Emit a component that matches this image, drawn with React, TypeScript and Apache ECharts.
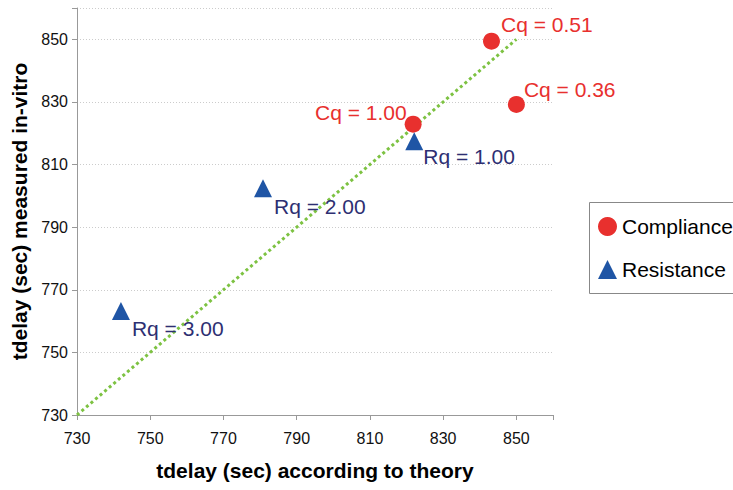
import React, { useEffect, useRef } from "react";
import * as echarts from "echarts";

const complianceX = [843.2, 850, 821.8];
const complianceY = [849.4, 829.2, 822.9];
const complianceLabels = ["Cq = 0.51", "Cq = 0.36", "Cq = 1.00"];

const resistanceX = [822.1, 780.8, 742];
const resistanceY = [817.4, 802.4, 763.2];
const resistanceLabels = ["Rq = 1.00", "Rq = 2.00", "Rq = 3.00"];

const identityLine = [730, 850];
const axisTicks = [730, 750, 770, 790, 810, 830, 850];

const complianceOffsets: [number, number, string][] = [
  [-4, -17, "right"],
  [-6, -15, "right"],
  [7, -12, "left"],
];
const resistanceOffsets: [number, number][] = [
  [-5, 15],
  [-3, 18],
  [-3, 17],
];

export default function App() {
  const ref = useRef<HTMLDivElement>(null);
  useEffect(() => {
    if (!ref.current) return;
    const chart = echarts.init(ref.current, undefined, { renderer: "svg" });
    const font = "Liberation Sans, Arial, sans-serif";
    const compData = complianceX.map((x, i) => ({
      value: [x, complianceY[i]],
      label: {
        show: true,
        formatter: complianceLabels[i],
        position: complianceOffsets[i][2] as any,
        offset: [complianceOffsets[i][0], complianceOffsets[i][1]],
      },
    }));
    const resData = resistanceX.map((x, i) => ({
      value: [x, resistanceY[i]],
      label: {
        show: true,
        formatter: resistanceLabels[i],
        position: "right" as any,
        offset: resistanceOffsets[i],
      },
    }));
    chart.setOption({
      animation: false,
      textStyle: { fontFamily: font },
      grid: { left: 77, right: 180, top: 8, bottom: 75 },
      graphic: [
        {
          type: "rect",
          shape: { x: 589.5, y: 202.5, width: 200, height: 91 },
          style: { fill: "none", stroke: "#888", lineWidth: 1 },
          silent: true,
          z: 0,
        },
      ],
      legend: {
        orient: "vertical",
        left: 589,
        top: 202,
        data: ["Compliance", "Resistance"],
        borderWidth: 0,
        padding: [14, 0, 14, 9],
        itemGap: 22,
        itemWidth: 19,
        itemHeight: 19,
        textStyle: { fontSize: 21, color: "#000", fontFamily: font },
      },
      xAxis: {
        type: "value",
        min: 730,
        max: 860,
        interval: 20,
        name: "tdelay (sec) according to theory",
        nameLocation: "middle",
        nameGap: 45,
        nameTextStyle: { fontSize: 21, fontWeight: "bold", color: "#000", fontFamily: font },
        axisLine: { show: true, lineStyle: { color: "#999" } },
        axisTick: { show: true, length: 5, lineStyle: { color: "#999" } },
        axisLabel: {
          fontSize: 16,
          color: "#111",
          margin: 15,
          formatter: (v: number) => (axisTicks.includes(v) ? String(v) : ""),
        },
        splitLine: { show: false },
      },
      yAxis: {
        type: "value",
        min: 730,
        max: 860,
        interval: 20,
        name: "tdelay (sec) measured in-vitro",
        nameLocation: "middle",
        nameGap: 47,
        nameTextStyle: { fontSize: 21, fontWeight: "bold", color: "#000", fontFamily: font },
        axisLine: { show: true, lineStyle: { color: "#999" } },
        axisTick: { show: true, length: 5, lineStyle: { color: "#999" } },
        axisLabel: {
          fontSize: 16,
          color: "#111",
          margin: 9,
          formatter: (v: number) => (axisTicks.includes(v) ? String(v) : ""),
        },
        splitLine: { show: true, lineStyle: { color: "#ccc", type: [1, 2] } },
      },
      series: [
        {
          name: "Identity",
          type: "line",
          data: [
            [identityLine[0], identityLine[0]],
            [identityLine[1], identityLine[1]],
          ],
          showSymbol: false,
          symbol: "none",
          lineStyle: { color: "#7DC242", width: 3, type: [3, 3] },
          z: 1,
        },
        {
          name: "Compliance",
          type: "scatter",
          symbol: "circle",
          symbolSize: 17,
          itemStyle: { color: "#E8302E", opacity: 1 },
          label: { fontSize: 21, color: "#E8302E", fontFamily: font },
          data: compData,
          z: 3,
        },
        {
          name: "Resistance",
          type: "scatter",
          symbol: "triangle",
          symbolSize: 18,
          itemStyle: { color: "#1F55A5", opacity: 1 },
          label: { fontSize: 21, color: "#2E2F72", fontFamily: font },
          data: resData,
          z: 3,
        },
      ],
    });
    return () => chart.dispose();
  }, []);
  return (
    <div
      ref={ref}
      style={{ position: "absolute", left: 0, top: 0, width: 733, height: 490, overflow: "hidden" }}
    />
  );
}
